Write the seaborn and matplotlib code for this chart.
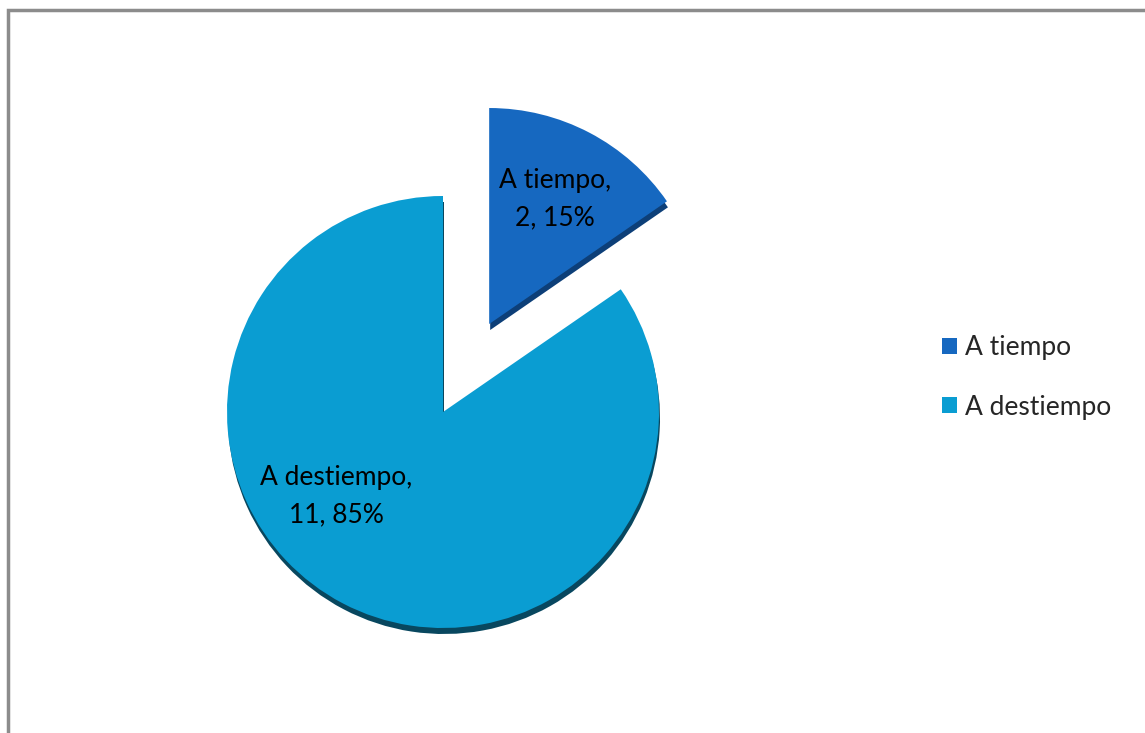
import matplotlib
matplotlib.use("Agg")
import matplotlib.pyplot as plt
from matplotlib.patches import Rectangle, Patch
import seaborn as sns

sns.set_theme(style="white")
plt.rcParams["font.family"] = ["Lato", "DejaVu Sans"]

categories = ["A tiempo", "A destiempo"]
counts = [2, 11]
percents = [15, 85]
colors = ["#1668c0", "#0a9dd2"]
shadow_colors = ["#0d3f78", "#08475f"]

W, H = 1145, 733
fig = plt.figure(figsize=(W / 100, H / 100), dpi=100)
ax = fig.add_axes([0, 0, 1, 1])

cx, cy, r = 443, 321, 216
# pie offsets are in data units here (pixels), so pull the small slice out ~0.46 r
explode = [0.46 * r, 0.0]

# darker copy underneath gives the pie a little depth
ax.pie(counts, colors=shadow_colors, startangle=90, counterclock=False,
       radius=r, center=(cx + 1, cy - 6), explode=explode,
       wedgeprops=dict(linewidth=0), frame=True)
wedges, _ = ax.pie(counts, colors=colors, startangle=90, counterclock=False,
                   radius=r, center=(cx, cy), explode=explode,
                   wedgeprops=dict(linewidth=0), frame=True)
ax.set_xlim(0, W)
ax.set_ylim(0, H)
ax.set_aspect("equal")
ax.axis("off")

label_pos = [(555, 534), (336, 237)]
for name, n, p, (x, y) in zip(categories, counts, percents, label_pos):
    ax.text(x, y, f"{name},\n{n}, {p}%", ha="center", va="center",
            fontsize=19, color="black", linespacing=1.6)

handles = [Patch(facecolor=c, edgecolor="none") for c in colors]
fig.legend(handles, categories, loc="center left", bbox_to_anchor=(0.823, 0.485),
           frameon=False, fontsize=19, handlelength=0.55, handleheight=0.55,
           handletextpad=0.3, labelspacing=1.3, borderaxespad=0, borderpad=0)

# chart-area border
fig.patches.append(Rectangle((8 / W, -0.05), 1.2, (H - 10) / H + 0.05,
                             transform=fig.transFigure, fill=False,
                             edgecolor="#8c8c8c", linewidth=2.5))

fig.savefig("out.png", dpi=100)
